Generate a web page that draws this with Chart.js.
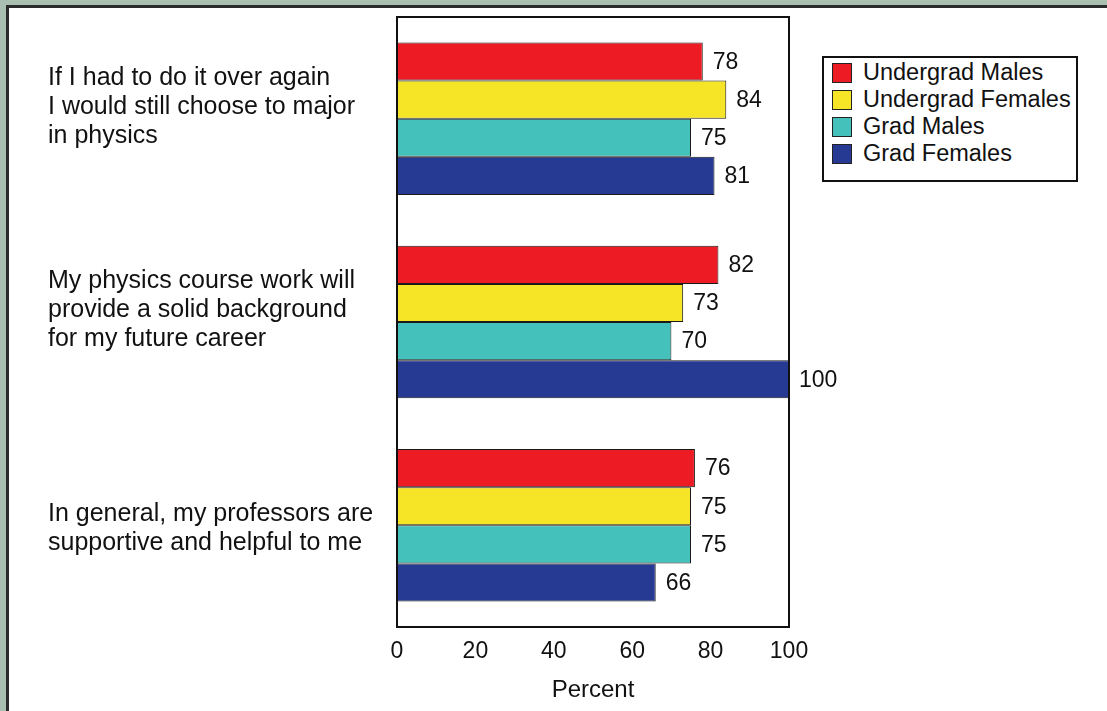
<!DOCTYPE html>
<html>
<head>
<meta charset="UTF-8" />
<title>Physics attitudes</title>
<script src="https://cdn.jsdelivr.net/npm/chart.js"></script>
<style>
  html, body { margin: 0; padding: 0; }
  body { width: 1107px; height: 711px; background: #a9c0b1; position: relative; overflow: hidden; font-family: "Liberation Sans", Arial, sans-serif; }
  .frame { position: absolute; left: 6px; top: 5px; right: -10px; bottom: -10px; background: #fff; border-left: 3px solid #2b2b2b; border-top: 3px solid #2b2b2b; }
  .wrap { position: absolute; left: 0; top: 0; width: 1107px; height: 711px; }
  #legend { position: absolute; left: 822px; top: 56px; width: 252px; height: 121px; border: 2px solid #111; background: #fff; padding-top: 1px; box-sizing: content-box; }
  #legend .row { display: flex; align-items: center; height: 27px; font-size: 23.5px; color: #111; }
  #legend .sw { width: 18px; height: 18px; border: 1px solid #222; margin-left: 8px; margin-right: 11px; }
</style>
</head>
<body>
  <div class="frame"></div>
  <div class="wrap"><canvas id="chart" width="1107" height="711"></canvas></div>
  <div id="legend"></div>

<script>
  // --- data ---
  const categories = [
    ['If I had to do it over again', 'I would still choose to major', 'in physics'],
    ['My physics course work will', 'provide a solid background', 'for my future career'],
    ['In general, my professors are', 'supportive and helpful to me']
  ];
  const seriesNames = ['Undergrad Males', 'Undergrad Females', 'Grad Males', 'Grad Females'];
  const seriesColors = ['#ed1c24', '#f6e427', '#45c1bb', '#263a94'];
  const ugMales = [78, 82, 76];
  const ugFemales = [84, 73, 75];
  const gradMales = [75, 70, 75];
  const gradFemales = [81, 100, 66];
  const xTicks = [0, 20, 40, 60, 80, 100];

  const values = [ugMales, ugFemales, gradMales, gradFemales];
  const FONT = '"Liberation Sans", Arial, sans-serif';

  // box around the plot area
  const plotBox = {
    id: 'plotBox',
    afterDraw(chart) {
      const { ctx, chartArea: a } = chart;
      ctx.save();
      ctx.strokeStyle = '#111';
      ctx.lineWidth = 2;
      ctx.strokeRect(a.left, a.top, a.right - a.left, a.bottom - a.top);
      ctx.restore();
    }
  };

  // numbers at the end of each bar
  const barValues = {
    id: 'barValues',
    afterDatasetsDraw(chart) {
      const ctx = chart.ctx;
      ctx.save();
      ctx.font = '23px ' + FONT;
      ctx.fillStyle = '#111';
      ctx.textAlign = 'left';
      ctx.textBaseline = 'middle';
      chart.data.datasets.forEach((ds, i) => {
        chart.getDatasetMeta(i).data.forEach((bar, j) => {
          ctx.fillText(ds.data[j], bar.x + 10, bar.y + 1);
        });
      });
      ctx.restore();
    }
  };

  const chart = new Chart(document.getElementById('chart'), {
    type: 'bar',
    data: {
      labels: categories,
      datasets: seriesNames.map((name, i) => ({
        label: name,
        data: values[i],
        backgroundColor: seriesColors[i],
        borderColor: '#1a1a1a',
        borderWidth: 1,
        borderSkipped: false,
        categoryPercentage: 0.75,
        barPercentage: 1
      }))
    },
    options: {
      indexAxis: 'y',
      responsive: false,
      animation: false,
      layout: { padding: { left: 48, top: 17, right: 318, bottom: 6 } },
      plugins: { legend: { display: false }, tooltip: { enabled: false } },
      scales: {
        x: {
          min: 0, max: 100,
          afterBuildTicks: s => { s.ticks = xTicks.map(v => ({ value: v })); },
          afterFit: s => { s.height = 78; s.paddingLeft = 0; s.paddingRight = 0; },
          grid: { display: false, drawTicks: false },
          border: { display: false },
          ticks: { color: '#111', padding: 11, font: { family: FONT, size: 23 } },
          title: { display: true, text: 'Percent', color: '#111', padding: { top: 8, bottom: 0 }, font: { family: FONT, size: 24 } }
        },
        y: {
          grid: { display: false, drawTicks: false },
          border: { display: false },
          afterFit: s => { s.width = 349; s.paddingTop = 0; s.paddingBottom = 0; },
          ticks: {
            color: '#111',
            crossAlign: 'far',
            labelOffset: 3,
            font: { family: FONT, size: 25, lineHeight: 1.16 },
            // first two labels sit a little above the middle of their group
            callback: (v, i) => i < 2 ? categories[i].concat(['']) : categories[i]
          }
        }
      }
    },
    plugins: [plotBox, barValues]
  });

  // legend box
  document.getElementById('legend').innerHTML = seriesNames.map((n, i) =>
    `<div class="row"><span class="sw" style="background:${seriesColors[i]}"></span>${n}</div>`
  ).join('');
</script>
</body>
</html>
